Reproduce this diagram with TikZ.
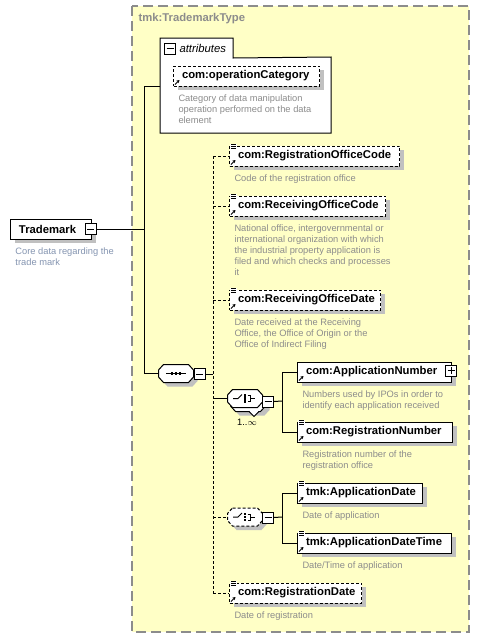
\documentclass[tikz,border=0pt]{standalone}
\usepackage{fontspec}
\setmainfont{Liberation Sans}
\usetikzlibrary{positioning,shadows,calc,arrows.meta}
\definecolor{TypeFill}{HTML}{FFFFC6}
\definecolor{TypeBorder}{HTML}{8C8C8C}
\definecolor{DescGray}{HTML}{8C8C8C}
\definecolor{DescBlue}{HTML}{8494B0}
\definecolor{ShadowGray}{HTML}{C0C0C0}

\tikzset{
  elem/.style={draw,fill=white,line width=1pt,minimum height=20pt,inner xsep=8.5pt,inner ysep=0pt,
    anchor=west,align=left,font=\fontsize{11.3}{13}\selectfont\bfseries,
    drop shadow={shadow xshift=4pt,shadow yshift=-4pt,fill=ShadowGray,opacity=1}},
  optelem/.style={elem,dash pattern=on 3pt off 2pt},
  desc/.style={anchor=north west,inner sep=0pt,align=left,text=DescGray,font=\fontsize{9.3}{11}\selectfont},
  compo/.style={rectangle,minimum width=34pt,minimum height=17pt,inner sep=0pt},
  optline/.style={dash pattern=on 3pt off 2pt},
  pmbox/.style={draw,fill=white,line width=1pt,minimum size=11pt,inner sep=0pt},
  minusbox/.style={pmbox,path picture={\draw ([xshift=2pt]path picture bounding box.west) -- ([xshift=-2pt]path picture bounding box.east);}},
  plusbox/.style={pmbox,path picture={\draw ([xshift=2pt]path picture bounding box.west) -- ([xshift=-2pt]path picture bounding box.east);
    \draw ([yshift=-2pt]path picture bounding box.north) -- ([yshift=2pt]path picture bounding box.south);}}
}
\newcommand{\refmark}[1]{\draw[line width=0.9pt,-{Stealth[length=3pt,width=3.5pt]}] (#1.south west) ++(2,-2) -- ++(4.5,-4.5);}
\newcommand{\txtmark}[1]{\fill[white] (#1.north west) ++(1,-2) rectangle ++(7,7);
  \foreach \dy in {-1,1,3}{\draw[line width=0.8pt] (#1.north west) ++(2,\dy) -- ++(5,0);}}
\newcommand{\octo}[3]{\path[#1] ($(#2.north west)+(5,0)+#3$) -- ($(#2.north east)+(-5,0)+#3$) -- ($(#2.east)+(0,-3.5)+#3$)
  -- ($(#2.east)+(0,3.5)+#3$) -- ($(#2.south east)+(-5,0)+#3$) -- ($(#2.south west)+(5,0)+#3$)
  -- ($(#2.west)+(0,3.5)+#3$) -- ($(#2.west)+(0,-3.5)+#3$) -- cycle;}
\newcommand{\seqsym}[1]{\draw (#1.center) ++(-10,0) -- ++(20,0);
  \foreach \dx in {-4,0,4}{\fill (#1.center) ++(\dx,0) ++(-1.4,-1.4) rectangle ++(2.8,2.8);}}
\newcommand{\chsym}[1]{\draw (#1.center) ++(-12,0) -- ++(5,0) -- ++(4,-4);
  \foreach \dy in {-3,0,3}{\fill (#1.center) ++(0,\dy) ++(-1.2,-1.2) rectangle ++(2.4,2.4);}
  \draw (#1.center) ++(2.5,-3) -- ++(3,0) -- ++(0,6) -- ++(-3,0);
  \draw (#1.center) ++(5.5,0) -- ++(4,0);}

\begin{document}
\begin{tikzpicture}[x=1pt,y=-1pt,line width=1pt]
  \useasboundingbox (0,0) rectangle (480,638);
  \draw[fill=TypeFill,draw=TypeBorder,line width=1.3pt,dash pattern=on 10pt off 5pt] (132,6) rectangle (469,632);
  \node[anchor=west,inner sep=0pt,text=TypeBorder,font=\fontsize{11.3}{13}\selectfont\bfseries] (ttl) at (138,19) {tmk:TrademarkType};

  \node[anchor=north west,minimum width=170pt,minimum height=75pt,inner sep=0pt] (attr) at (160,57) {};
  \node[anchor=north west,minimum width=72pt,minimum height=19pt,inner sep=0pt] (atab) at (160,38) {};
  \draw[fill=white] (atab.south west) -- (atab.north west) -- (atab.north east) -- (atab.south east)
    -- (attr.north east) -- (attr.south east) -- (attr.south west) -- cycle;
  \node[minusbox] (atabm) at (170,48.5) {};
  \node[anchor=west,inner sep=0pt,font=\fontsize{11.3}{13}\selectfont\itshape] (atabt) at (179,48) {attributes};
  \node[optelem,text width=129pt] (opc) at (173,76) {com:operationCategory};
  \refmark{opc}
  \node[desc] (opcd) at ([xshift=5pt,yshift=-8pt]opc.south west) {Category of data manipulation\\operation performed on the data\\element};

  \node[elem,text width=64pt] (tm) at (10,229) {Trademark};
  \node[minusbox] (tmm) at (90.5,229) {};
  \node[desc,text=DescBlue] (tmd) at ([xshift=5pt,yshift=-8pt]tm.south west) {Core data regarding the\\trade mark};

  \node[compo] (seq) at (176,373.5) {};
  \octo{fill=ShadowGray}{seq}{(4,4)}
  \octo{draw,fill=white}{seq}{(0,0)}
  \seqsym{seq}
  \node[minusbox] (seqm) at (199.5,374) {};
  \coordinate (tk) at (144,86);
  \draw (attr.west |- tk) -- (tk) -- (tk |- seq.west) -- (seq.west);
  \draw (tmm.east) -- (tk |- tmm.east);
  \coordinate (sp) at (213,374);
  \draw (seqm.east) -- (sp);

  \node[optelem,text width=153pt] (roc) at (229,156) {com:RegistrationOfficeCode};
  \node[desc] (rocd) at ([xshift=5pt,yshift=-8pt]roc.south west) {Code of the registration office};
  \node[optelem,text width=139pt] (rcc) at (229,206) {com:ReceivingOfficeCode};
  \node[desc] (rccd) at ([xshift=5pt,yshift=-8pt]rcc.south west) {National office, intergovernmental or\\international organization with which\\the industrial property application is\\filed and which checks and processes\\it};
  \node[optelem,text width=134pt] (rcd) at (229,300) {com:ReceivingOfficeDate};
  \node[desc] (rcdd) at ([xshift=5pt,yshift=-8pt]rcd.south west) {Date received at the Receiving\\Office, the Office of Origin or the\\Office of Indirect Filing};

  \node[compo] (ch1) at (245,398.5) {};
  \octo{fill=ShadowGray}{ch1}{(7,8)}
  \octo{draw,fill=white}{ch1}{(3,4)}
  \fill[white] ($(ch1.south)+(4,3)$) -- ++(5,5) -- ++(5,-5) -- cycle;
  \draw ($(ch1.south)+(4,4)$) -- ++(5,5) -- ++(5,-5);
  \octo{draw,fill=white}{ch1}{(0,0)}
  \chsym{ch1}
  \node[minusbox] (ch1m) at (268,401.5) {};
  \node[anchor=north,inner sep=0pt,font=\fontsize{9.3}{11}\selectfont] (ch1n) at (247,419) {1..$\infty$};
  \coordinate (c1) at (282,401);
  \draw (ch1m.east) -- (c1);
  \node[elem,text width=137pt] (an) at (297,372) {com:ApplicationNumber};
  \node[plusbox] (anp) at (451,370.5) {};
  \refmark{an}
  \node[desc] (and) at ([xshift=5pt,yshift=-8pt]an.south west) {Numbers used by IPOs in order to\\identify each application received};
  \node[elem,text width=138pt] (rn) at (297,432) {com:RegistrationNumber};
  \node[desc] (rnd) at ([xshift=5pt,yshift=-8pt]rn.south west) {Registration number of the\\registration office};
  \draw (c1 |- an.west) -- (c1 |- rn.west);
  \draw (c1 |- an.west) -- (an.west);
  \draw (c1 |- rn.west) -- (rn.west);

  \node[compo] (ch2) at (245,517) {};
  \octo{fill=ShadowGray}{ch2}{(4,4)}
  \octo{draw,fill=white,optline}{ch2}{(0,0)}
  \chsym{ch2}
  \node[minusbox] (ch2m) at (268,517.5) {};
  \coordinate (c2) at (282,517);
  \draw (ch2m.east) -- (c2);
  \node[elem,text width=108pt] (ad) at (297,493) {tmk:ApplicationDate};
  \node[desc] (add) at ([xshift=5pt,yshift=-8pt]ad.south west) {Date of application};
  \node[elem,text width=137pt] (adt) at (297,543) {tmk:ApplicationDateTime};
  \node[desc] (adtd) at ([xshift=5pt,yshift=-8pt]adt.south west) {Date/Time of application};
  \draw (c2 |- ad.west) -- (c2 |- adt.west);
  \draw (c2 |- ad.west) -- (ad.west);
  \draw (c2 |- adt.west) -- (adt.west);

  \node[optelem,text width=115pt] (rgd) at (229,593) {com:RegistrationDate};
  \node[desc] (rgdd) at ([xshift=5pt,yshift=-8pt]rgd.south west) {Date of registration};

  \draw[optline] (sp |- roc.west) -- (sp |- rgd.west);
  \foreach \e in {roc,rcc,rcd,rgd}{\draw[optline] (sp |- \e.west) -- (\e.west);}
  \draw (sp |- ch1.west) -- (ch1.west);
  \draw[optline] (sp |- ch2.west) -- (ch2.west);
  \foreach \e in {roc,rcc,rcd,rn,ad,adt,rgd}{\txtmark{\e}\refmark{\e}}
\end{tikzpicture}
\end{document}
